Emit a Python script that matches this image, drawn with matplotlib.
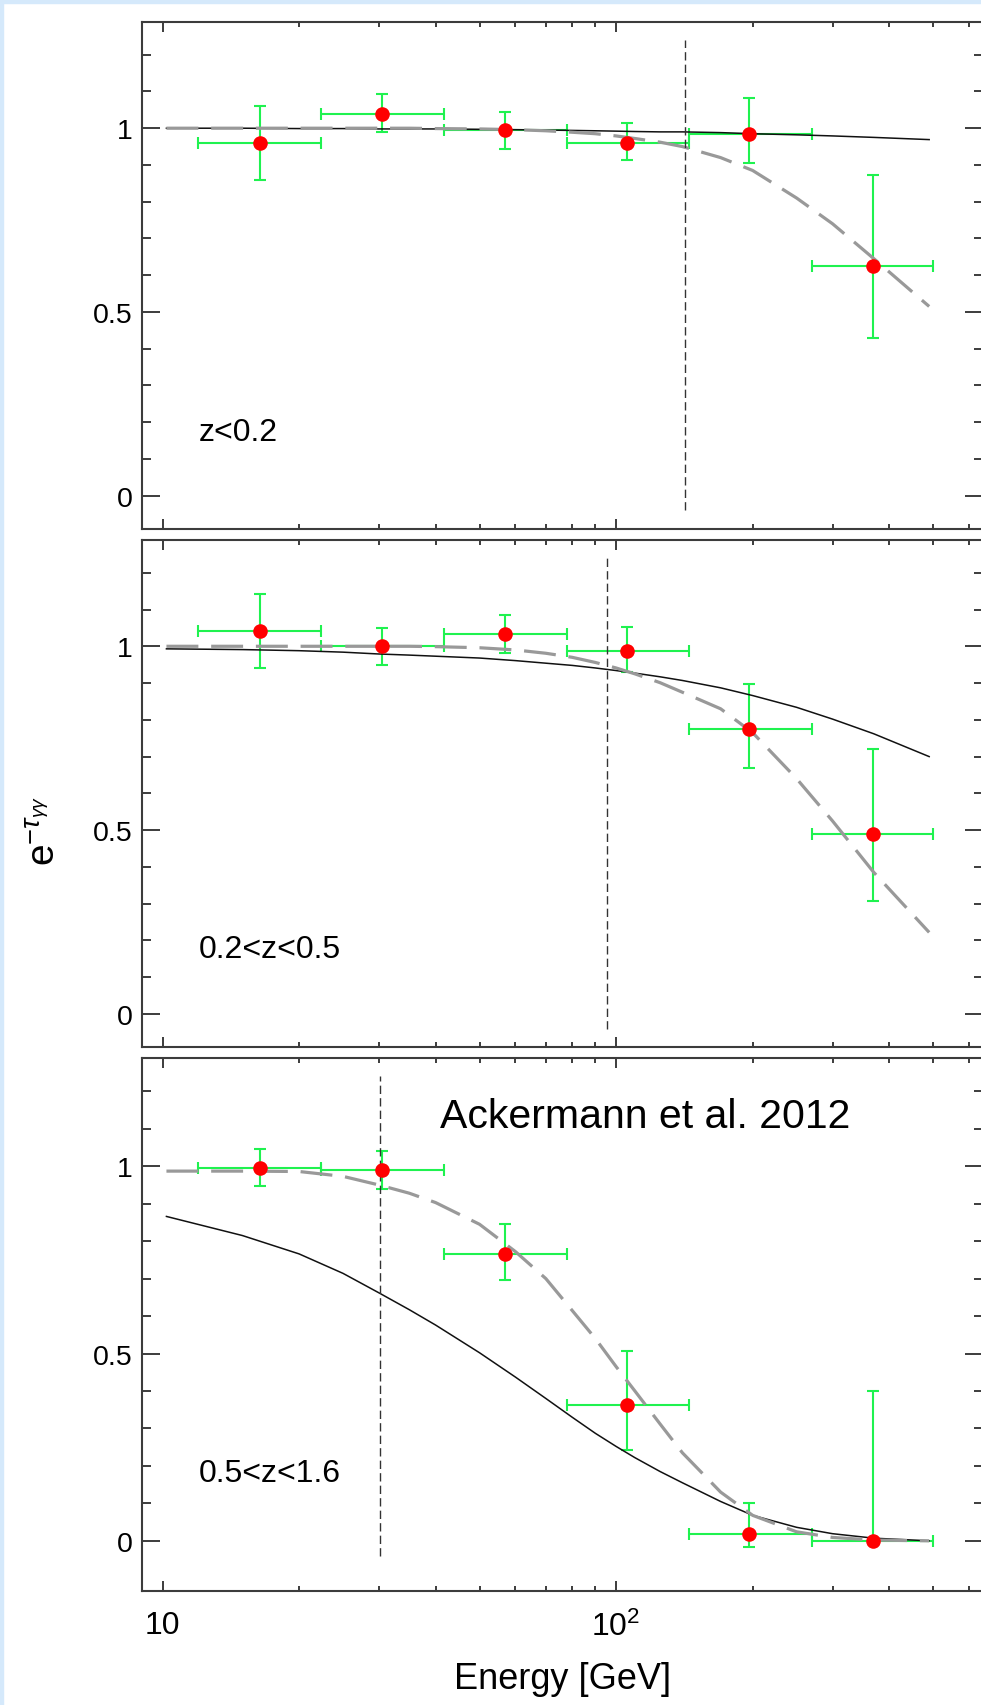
import matplotlib
matplotlib.use("Agg")
import matplotlib.pyplot as plt
from matplotlib.ticker import FixedLocator, NullFormatter, FixedFormatter
from matplotlib.patches import Rectangle
import numpy as np

plt.rcParams['font.family'] = ['Liberation Sans', 'DejaVu Sans']
plt.rcParams['mathtext.fontset'] = 'custom'
plt.rcParams['mathtext.rm'] = 'Liberation Sans'
plt.rcParams['mathtext.it'] = 'Liberation Sans:italic'
plt.rcParams['mathtext.bf'] = 'Liberation Sans:bold'

## data
e_lo = [12.0, 22.3, 41.7, 77.8, 144.5, 270.0]
e_hi = [22.3, 41.7, 77.8, 144.5, 270.0, 500.0]
e_mid = [16.4, 30.5, 56.9, 105.6, 196.6, 368.0]

z1_val = [0.960, 1.039, 0.995, 0.961, 0.984, 0.625]
z1_hi = [1.060, 1.093, 1.044, 1.015, 1.082, 0.872]
z1_lo = [0.859, 0.989, 0.944, 0.914, 0.906, 0.428]

z2_val = [1.042, 1.000, 1.034, 0.987, 0.775, 0.490]
z2_hi = [1.142, 1.050, 1.084, 1.053, 0.898, 0.721]
z2_lo = [0.941, 0.949, 0.981, 0.931, 0.668, 0.306]

z3_val = [0.996, 0.989, 0.765, 0.362, 0.018, 0.000]
z3_hi = [1.045, 1.040, 0.846, 0.508, 0.101, 0.401]
z3_lo = [0.946, 0.939, 0.697, 0.242, -0.016, 0.000]

# model curves (solid black / dashed grey), read at these energies
e_model = [10.2, 15, 20, 25, 30, 35, 40, 50, 60, 70, 80, 90, 100, 110, 125, 140, 170, 200, 250, 300, 370, 490]
m1_solid = [1.0, 1.0, 0.999, 0.999, 0.998, 0.998, 0.998, 0.997, 0.996, 0.995, 0.994, 0.993,
            0.992, 0.991, 0.990, 0.990, 0.988, 0.985, 0.982, 0.979, 0.975, 0.969]
m1_dash = [1.0, 1.0, 1.0, 1.0, 1.0, 1.0, 0.999, 0.998, 0.996, 0.993, 0.989, 0.985,
           0.979, 0.972, 0.962, 0.950, 0.920, 0.885, 0.810, 0.740, 0.645, 0.515]
m2_solid = [0.993, 0.991, 0.988, 0.984, 0.979, 0.976, 0.973, 0.968, 0.961, 0.954, 0.948, 0.941,
            0.934, 0.927, 0.917, 0.907, 0.887, 0.866, 0.834, 0.802, 0.762, 0.700]
m2_dash = [1.0, 1.0, 1.0, 1.0, 1.0, 1.0, 0.999, 0.996, 0.990, 0.981, 0.970, 0.956,
           0.941, 0.925, 0.901, 0.875, 0.830, 0.765, 0.640, 0.525, 0.385, 0.222]
m3_solid = [0.866, 0.815, 0.766, 0.714, 0.662, 0.617, 0.576, 0.502, 0.437, 0.380, 0.330, 0.287,
            0.252, 0.222, 0.185, 0.155, 0.105, 0.068, 0.036, 0.019, 0.007, 0.0]
m3_dash = [0.987, 0.987, 0.986, 0.973, 0.950, 0.928, 0.903, 0.845, 0.772, 0.700, 0.615, 0.540,
           0.465, 0.400, 0.312, 0.235, 0.130, 0.068, 0.024, 0.009, 0.002, 0.0]

v_lines = [141.8, 95.5, 30.2]
panel_labels = ['z<0.2', '0.2<z<0.5', '0.5<z<1.6']
label_y = [0.152, 0.156, 0.159]

vals = [z1_val, z2_val, z3_val]
his = [z1_hi, z2_hi, z3_hi]
los = [z1_lo, z2_lo, z3_lo]
solids = [m1_solid, m2_solid, m3_solid]
dashes = [m1_dash, m2_dash, m3_dash]

## layout (figure fractions)
W, H = 981, 1706
fig = plt.figure(figsize=(W / 100, H / 100), dpi=100)
fig.patch.set_facecolor('white')
blue = '#d5e9fb'
fig.patches.append(Rectangle((0, 1 - 4 / H), 1, 4 / H, transform=fig.transFigure, color=blue, zorder=0))
fig.patches.append(Rectangle((0, 0), 3 / W, 1, transform=fig.transFigure, color=blue, zorder=0))

left = 142 / W
width = (983 - 142) / W
boxes = [(23, 530), (541, 1048), (1059, 1592)]
ylims = [(-0.0906, 1.289), (-0.0897, 1.289), (-0.134, 1.289)]

x_minor = [20, 30, 40, 50, 60, 70, 80, 90, 200, 300, 400, 500, 600]
y_minor = [0.1, 0.2, 0.3, 0.4, 0.6, 0.7, 0.8, 0.9, 1.1, 1.2]

green = '#1ff24f'
spine_c = '#3c3c3c'

for i, (top, bot) in enumerate(boxes):
    ax = fig.add_axes([left, 1 - bot / H, width, (bot - top) / H])
    ax.set_xscale('log')
    ax.set_xlim(9.01, 644)
    ax.set_ylim(*ylims[i])

    xerr = [np.array(e_mid) - np.array(e_lo), np.array(e_hi) - np.array(e_mid)]
    yerr = [np.array(vals[i]) - np.array(los[i]), np.array(his[i]) - np.array(vals[i])]
    ax.errorbar(e_mid, vals[i], xerr=xerr, yerr=yerr, fmt='none', ecolor=green,
                elinewidth=1.5, capsize=4, capthick=1.5, zorder=2)

    ax.plot(e_model, solids[i], color='#111111', lw=1.1, zorder=3)
    ax.plot(e_model, dashes[i], color='#999999', lw=2.3, dashes=(10, 4), zorder=3)
    ax.plot([v_lines[i], v_lines[i]], [-0.04, 1.24], color='#333333', lw=1.0,
            dashes=(6, 3), zorder=3)
    ax.plot(e_mid, vals[i], 'o', color='red', markersize=10.5, mec='none', zorder=4)

    ax.text(12.0, label_y[i], panel_labels[i], fontsize=23, va='baseline', ha='left')

    for s in ax.spines.values():
        s.set_color(spine_c)
        s.set_linewidth(1.5)
    ax.spines['right'].set_visible(False)

    ax.xaxis.set_major_locator(FixedLocator([10, 100]))
    ax.xaxis.set_minor_locator(FixedLocator(x_minor))
    ax.xaxis.set_minor_formatter(NullFormatter())
    ax.yaxis.set_major_locator(FixedLocator([0, 0.5, 1]))
    ax.yaxis.set_minor_locator(FixedLocator(y_minor))
    ax.yaxis.set_major_formatter(FixedFormatter(['0', '0.5', '1']))

    ax.tick_params(axis='both', which='both', direction='in', top=True, right=True,
                   color=spine_c, width=1.4)
    ax.tick_params(axis='x', which='major', length=7, labelsize=23, pad=14)
    ax.tick_params(axis='x', which='minor', length=3.6)
    ax.tick_params(axis='y', which='major', length=13, labelsize=20.5, pad=7)
    ax.tick_params(axis='y', which='minor', length=6.5)

    if i < 2:
        ax.xaxis.set_major_formatter(NullFormatter())
    else:
        ax.xaxis.set_major_formatter(FixedFormatter(['10', r'$\mathrm{10^2}$']))
        ax.text(40.9, 1.104, 'Ackermann et al. 2012', fontsize=29.5, va='baseline', ha='left')
        ax.set_xlabel('Energy [GeV]', fontsize=26, labelpad=14)

fig.text(45 / W, 1 - 831 / H, r'$\mathrm{e}^{-\tau_{\gamma\gamma}}$', fontsize=28,
         rotation=90, ha='center', va='center')

fig.savefig('out.png', dpi=100, facecolor=fig.get_facecolor())
